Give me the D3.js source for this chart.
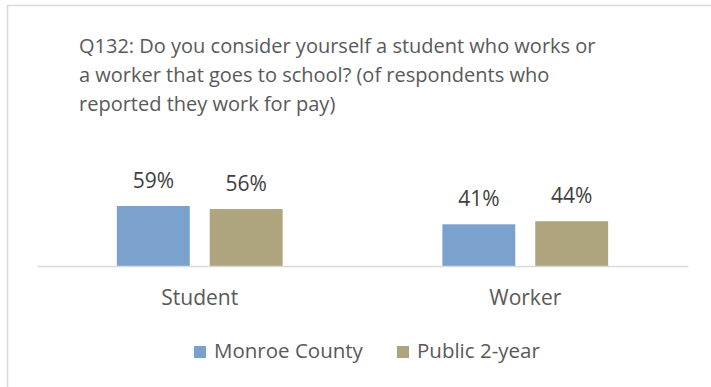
<!DOCTYPE html>
<html>
<head>
<meta charset="utf-8">
<script src="https://cdn.jsdelivr.net/npm/d3@7"></script>
<style>
  body { margin: 0; background: white; }
  text { font-family: "Open Sans", sans-serif; }
</style>
</head>
<body>
<div id="container"></div>
<script>
const width = 711;
const height = 387;

// data
const categories = ["Student", "Worker"];
const seriesNames = ["Monroe County", "Public 2-year"];
const monroeValues = [0.59, 0.41];
const publicValues = [0.56, 0.44];
const seriesColors = ["#7ba2cd", "#aea57e"];
const titleLines = [
  "Q132: Do you consider yourself a student who works or",
  "a worker that goes to school? (of respondents who",
  "reported they work for pay)"
];

let rows = categories.map(function(c, i) {
  return { cat: c, values: [monroeValues[i], publicValues[i]] };
});

let svg = d3.select("#container")
  .append("svg")
    .attr("width", width)
    .attr("height", height)
    .style("display", "block");

// chart frame (only top and left edges show in the picture)
svg.append("path")
  .attr("d", "M7.5," + height + "V5.5H" + width)
  .attr("fill", "none")
  .attr("stroke", "#d9d9d9")
  .attr("stroke-width", 1.5);

// title
svg.append("g")
  .selectAll("text")
  .data(titleLines)
  .enter().append("text")
    .attr("x", 79)
    .attr("y", function(d, i) { return 53 + i * 29; })
    .attr("font-size", 20)
    .attr("fill", "#595959")
    .text(function(d) { return d; });

// scales
let x = d3.scaleBand()
  .domain(categories)
  .range([37, 688]);

let xInner = d3.scaleBand()
  .domain([0, 1])
  .range([0, x.bandwidth()])
  .paddingInner(0.215)
  .paddingOuter(0.86);

let y = d3.scaleLinear()
  .domain([0, 1])
  .range([266, 164.3]);

// bars
let groups = svg.selectAll(".cat")
  .data(rows)
  .enter().append("g")
    .attr("class", "cat")
    .attr("transform", function(d) { return "translate(" + x(d.cat) + ",0)"; });

let bars = groups.selectAll(".bar")
  .data(function(d) { return d.values; })
  .enter();

bars.append("rect")
  .attr("x", function(d, i) { return xInner(i); })
  .attr("y", function(d) { return y(d); })
  .attr("width", xInner.bandwidth())
  .attr("height", function(d) { return y(0) - y(d); })
  .attr("fill", function(d, i) { return seriesColors[i]; });

bars.append("text")
  .attr("x", function(d, i) { return xInner(i) + xInner.bandwidth() / 2; })
  .attr("y", function(d) { return y(d) - 18; })
  .attr("text-anchor", "middle")
  .attr("font-size", 21)
  .attr("fill", "#404040")
  .text(function(d) { return Math.round(d * 100) + "%"; });

// x axis
let xAxis = svg.append("g")
  .attr("transform", "translate(0," + y(0) + ")")
  .call(d3.axisBottom(x).tickSize(0).tickPadding(39));

xAxis.select(".domain")
  .attr("stroke", "#d9d9d9")
  .attr("stroke-width", 1.5);

xAxis.selectAll("text")
  .attr("font-family", "Open Sans, sans-serif")
  .attr("font-size", 21)
  .attr("fill", "#595959")
  .attr("dy", 0);

// legend
let legendX = [194, 397];
let legend = svg.selectAll(".legend")
  .data(seriesNames)
  .enter().append("g")
    .attr("class", "legend")
    .attr("transform", function(d, i) { return "translate(" + legendX[i] + ",346)"; });

legend.append("rect")
  .attr("width", 12)
  .attr("height", 12)
  .attr("fill", function(d, i) { return seriesColors[i]; });

legend.append("text")
  .attr("x", 20)
  .attr("y", 12)
  .attr("font-size", 20.5)
  .attr("fill", "#595959")
  .text(function(d) { return d; });
</script>
</body>
</html>
